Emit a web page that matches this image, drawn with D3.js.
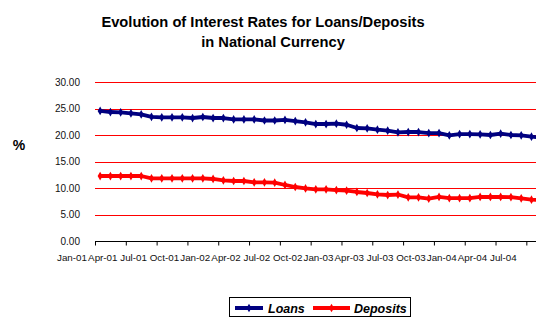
<!DOCTYPE html>
<html>
<head>
<meta charset="utf-8">
<script src="https://cdn.jsdelivr.net/npm/d3@7"></script>
<style>
  html, body { margin: 0; padding: 0; background: #fff; }
  svg { display: block; font-family: "Liberation Sans", Arial, sans-serif; }
</style>
</head>
<body>
<svg id="chart" width="536" height="318"></svg>
<script>
// ---- Data ----
const months = ["Jan-01","Feb-01","Mar-01","Apr-01","May-01","Jun-01","Jul-01","Aug-01","Sep-01","Oct-01","Nov-01","Dec-01",
  "Jan-02","Feb-02","Mar-02","Apr-02","May-02","Jun-02","Jul-02","Aug-02","Sep-02","Oct-02","Nov-02","Dec-02",
  "Jan-03","Feb-03","Mar-03","Apr-03","May-03","Jun-03","Jul-03","Aug-03","Sep-03","Oct-03","Nov-03","Dec-03",
  "Jan-04","Feb-04","Mar-04","Apr-04","May-04","Jun-04","Jul-04","Aug-04","Sep-04"];
const loans = [24.6,24.4,24.35,24.15,23.95,23.5,23.4,23.4,23.4,23.27,23.46,23.27,
  23.27,23.0,23.0,23.0,22.8,22.8,22.9,22.7,22.45,22.14,22.14,22.2,
  22.0,21.39,21.33,21.07,20.88,20.57,20.63,20.63,20.44,20.44,20.0,20.25,
  20.25,20.2,20.07,20.32,20.07,20.0,19.75,19.6,19.5];
const deposits = [12.34,12.34,12.34,12.34,12.34,11.9,11.9,11.9,11.9,11.9,11.9,11.78,
  11.53,11.4,11.4,11.15,11.15,11.09,10.65,10.27,10.0,9.83,9.83,9.7,
  9.58,9.33,9.14,8.89,8.76,8.85,8.33,8.33,8.1,8.39,8.17,8.17,
  8.17,8.39,8.39,8.39,8.36,8.14,7.88,7.8,7.8];
const yTicks = [0,5,10,15,20,25,30];
const xTickLabels = ["Jan-01","Apr-01","Jul-01","Oct-01","Jan-02","Apr-02","Jul-02","Oct-02","Jan-03","Apr-03","Jul-03","Oct-03","Jan-04","Apr-04","Jul-04"];
const seriesNames = ["Loans","Deposits"];
const seriesColors = ["#000080","#ff0000"];

// ---- Layout ----
const svg = d3.select("#chart");
const x0 = 95, band = 10.27;
const x = d3.scaleBand().domain(months).range([x0, x0 + band * months.length]).paddingInner(0).paddingOuter(0);
const y = d3.scaleLinear().domain([0, 30]).range([241.5, 82.3]);
const cx = d => x(d) + x.bandwidth() / 2;

// Title
svg.append("text").attr("x", 263).attr("y", 27).attr("text-anchor", "middle")
  .attr("font-weight", "bold").attr("font-size", 14.7).text("Evolution of Interest Rates for Loans/Deposits");
svg.append("text").attr("x", 273).attr("y", 47).attr("text-anchor", "middle")
  .attr("font-weight", "bold").attr("font-size", 14.7).text("in National Currency");

// Y axis title
svg.append("text").attr("x", 19).attr("y", 150).attr("text-anchor", "middle")
  .attr("font-weight", "bold").attr("font-size", 14).text("%");

// Gridlines
svg.append("g").selectAll("line").data(yTicks.filter(t => t > 0)).join("line")
  .attr("x1", x0).attr("x2", x.range()[1])
  .attr("y1", d => Math.round(y(d)) + 0.5).attr("y2", d => Math.round(y(d)) + 0.5)
  .attr("stroke", "#ff0000").attr("stroke-width", 1.2);

// Y labels
svg.append("g").selectAll("text").data(yTicks).join("text")
  .attr("x", 80).attr("y", d => y(d)).attr("dy", "0.35em").attr("text-anchor", "end")
  .attr("font-size", 10).attr("fill", "#111").text(d => d3.format(".2f")(d));

// X axis
const tickCats = months.filter((m, i) => i % 3 === 0);
const xAxis = d3.axisBottom(x).tickValues(tickCats).tickSize(4).tickFormat("");
const gx = svg.append("g").attr("transform", `translate(0,${Math.round(y(0)) - 0.5})`).call(xAxis);
gx.select(".domain").attr("d", `M${x0},0H${x.range()[1]}`).attr("stroke", "#000");
gx.selectAll(".tick").attr("transform", d => `translate(${x(d) + 0.5},0)`);
gx.selectAll(".tick line").attr("stroke", "#000");

// X labels
svg.append("g").selectAll("text").data(xTickLabels).join("text")
  .attr("x", (d, i) => x(tickCats[i]) - 23)
  .attr("y", 261).attr("text-anchor", "middle").attr("font-size", 9.8).attr("fill", "#111")
  .text(d => d);

// Lines
const series = [loans, deposits];
series.forEach((vals, si) => {
  const pts = vals.map((v, i) => [cx(months[i]), y(v)]);
  svg.append("path").datum(pts)
    .attr("d", d3.line())
    .attr("fill", "none").attr("stroke", seriesColors[si]).attr("stroke-width", 3.8)
    .attr("stroke-linejoin", "round");
  svg.append("g").selectAll("path").data(pts).join("path")
    .attr("transform", d => `translate(${d[0]},${d[1]})`)
    .attr("d", d3.symbol(d3.symbolDiamond, 22)())
    .attr("fill", seriesColors[si]);
});

// Legend
const lg = svg.append("g");
lg.append("rect").attr("x", 229.5).attr("y", 297.5).attr("width", 181).attr("height", 19)
  .attr("fill", "#fff").attr("stroke", "#000").attr("stroke-width", 1);
const legendItems = [
  {lx: 235, tx: 268},
  {lx: 313, tx: 354}
];
seriesNames.forEach((name, i) => {
  const it = legendItems[i];
  const w = i === 0 ? 28 : 37;
  lg.append("line").attr("x1", it.lx).attr("x2", it.lx + w).attr("y1", 308).attr("y2", 308)
    .attr("stroke", seriesColors[i]).attr("stroke-width", 4);
  lg.append("path").attr("transform", `translate(${it.lx + w / 2},308)`)
    .attr("d", d3.symbol(d3.symbolDiamond, 22)()).attr("fill", seriesColors[i]);
  lg.append("text").attr("x", it.tx).attr("y", 313).attr("font-size", 12.5)
    .attr("font-weight", "bold").attr("font-style", "italic").text(name);
});
</script>
</body>
</html>
